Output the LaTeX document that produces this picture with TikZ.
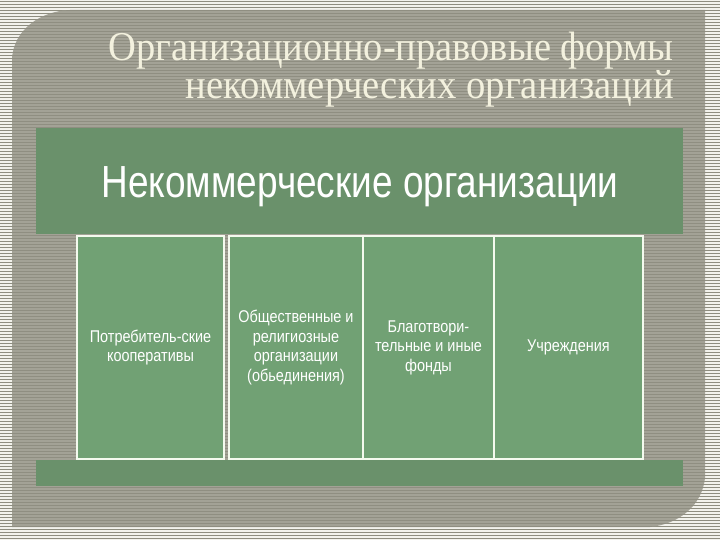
\documentclass[tikz,border=0pt]{standalone}
\usepackage{fontspec}
\setmainfont{Liberation Serif}
\newfontfamily\narrowsans[FakeStretch=0.85]{Liberation Sans}
\newfontfamily\titleserif{Liberation Serif}
\definecolor{outerwhite}{HTML}{F2F2EC}
\definecolor{outerstripe}{HTML}{8E8D7F}
\definecolor{innerlight}{HTML}{A3A296}
\definecolor{innerstripe}{HTML}{8F8E81}
\definecolor{bandgreen}{HTML}{6A916B}
\definecolor{boxgreen}{HTML}{71A174}
\definecolor{boxline}{HTML}{F4FAEE}
\definecolor{titlecream}{HTML}{F3F1DE}
\begin{document}
\begin{tikzpicture}[x=1pt,y=-1pt,
  ostripe/.style={draw=outerstripe,line width=1.6pt},
  istripe/.style={draw=innerstripe,line width=1.4pt},
  band/.style={fill=bandgreen,draw=none,inner sep=0pt,outer sep=0pt},
  orgbox/.style={fill=boxgreen,draw=boxline,line width=2.4pt,inner sep=2pt,
    align=center,text=white,font=\narrowsans\fontsize{17}{19.5}\selectfont,
    minimum height=223pt},
  titletext/.style={anchor=base east,inner sep=0pt,text=titlecream,
    font=\titleserif\fontsize{41}{46}\selectfont},
  headtext/.style={anchor=base,inner sep=0pt,text=white,
    font=\narrowsans\fontsize{45}{50}\selectfont}]
\useasboundingbox (0,0) rectangle (720,540);
% outer striped background
\fill[outerwhite] (0,0) rectangle (720,540);
\foreach \y in {1.5,4.5,...,540} \draw[ostripe] (0,\y) -- (720,\y);
% inner panel
\begin{scope}
\path[clip] (12,58) .. controls (14,30) and (40,11) .. (70,10) -- (705,10) -- (705,478)
   .. controls (702,505) and (680,524) .. (650,527) -- (12,527) -- cycle;
\fill[innerlight] (0,0) rectangle (720,540);
\foreach \y in {1.5,4.5,...,540} \draw[istripe] (0,\y) -- (720,\y);
\end{scope}
% title
\node[titletext] (t1) at (674,61) {\resizebox{565pt}{\height}{Организационно-правовые формы}};
\node[titletext] (t2) at (674,99) {\resizebox{488pt}{\height}{некоммерческих организаций}};
% green bands
\node[band,minimum width=647pt,minimum height=106pt] (topband) at (359.5,181) {};
\node[band,minimum width=647pt,minimum height=26pt] (botband) at (359.5,473) {};
\node[headtext] (head) at (360,198) {\resizebox{517pt}{\height}{Некоммерческие организации}};
% boxes
\node[orgbox,minimum width=147pt] (b1) at (150.5,347.5) {Потребитель-ские\\кооперативы};
\node[orgbox,minimum width=134pt] (b2) at (296,347.5) {Общественные и\\религиозные\\организации\\(обьединения)};
\node[orgbox,minimum width=131pt] (b3) at (428.5,347.5) {Благотвори-\\тельные и иные\\фонды};
\node[orgbox,minimum width=149pt] (b4) at (568.5,347.5) {Учреждения};
\end{tikzpicture}
\end{document}
